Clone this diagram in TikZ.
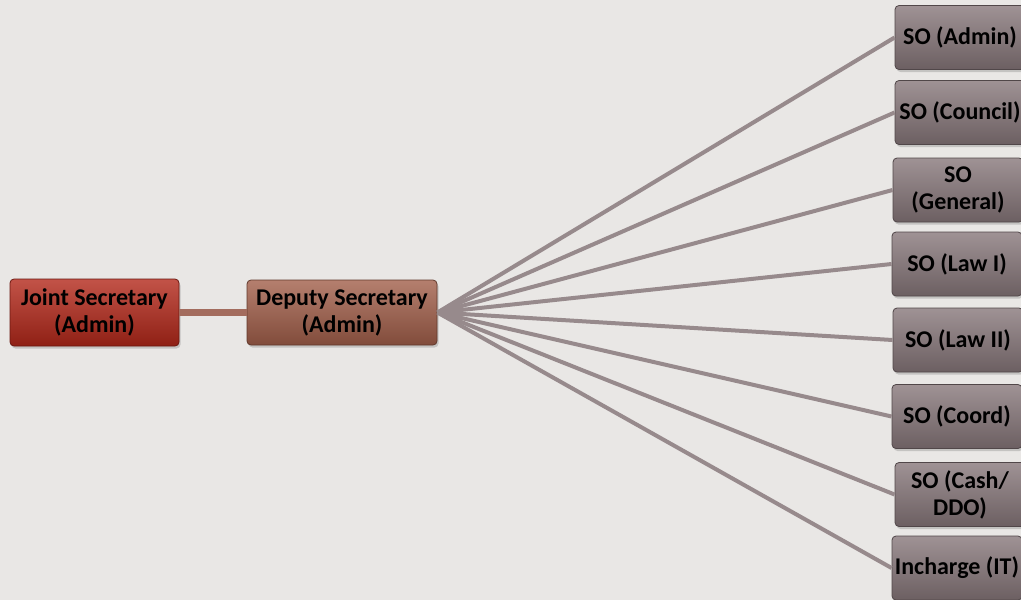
\documentclass[tikz,border=0pt]{standalone}
\usepackage{fontspec}
\setmainfont{Carlito}
\usetikzlibrary{shadows}

\definecolor{bgcol}{HTML}{E9E7E5}
\definecolor{jsred}{HTML}{B3281A}
\definecolor{dsbrown}{HTML}{A25F4A}
\definecolor{sogrey}{HTML}{87777A}
\definecolor{fanline}{HTML}{978A8C}
\definecolor{jsline}{HTML}{A36C5E}

\tikzset{
  post/.style={rounded corners=4pt, align=center, inner sep=0pt,
    font=\fontsize{24}{27}\selectfont\bfseries, text=black,
    drop shadow={shadow xshift=1.5pt, shadow yshift=-2.5pt, opacity=0.35}},
  jsbox/.style={post, draw=jsred!60!black, line width=0.8pt,
    top color=jsred!80!white, middle color=jsred, bottom color=jsred!80!black,
    minimum width=169pt, minimum height=67pt},
  dsbox/.style={post, draw=dsbrown!60!black, line width=0.8pt,
    top color=dsbrown!80!white, middle color=dsbrown, bottom color=dsbrown!80!black,
    minimum width=190pt, minimum height=65pt},
  sobox/.style={post, draw=sogrey!60!black, line width=0.8pt,
    top color=sogrey!80!white, middle color=sogrey, bottom color=sogrey!80!black,
    minimum width=130pt, minimum height=64pt},
  fan/.style={fanline, line width=4pt},
}

\begin{document}
\begin{tikzpicture}[x=1pt,y=-1pt]
\fill[bgcol] (0,0) rectangle (1021,600);
\useasboundingbox (0,0) rectangle (1021,600);

\node[jsbox] (js) at (94.5,312.5) {Joint Secretary\\(Admin)};
\node[dsbox] (ds) at (342,312.5) {Deputy Secretary\\(Admin)};

\node[sobox] (soadmin)   at (960,37.5)  {SO (Admin)};
\node[sobox] (socouncil) at (960,112.5) {SO (Council)};
\node[sobox] (sogeneral) at (958,190)   {SO\\(General)};
\node[sobox] (solawi)    at (957,264)   {SO (Law I)};
\node[sobox] (solawii)   at (958,340)   {SO (Law II)};
\node[sobox] (socoord)   at (957,416.5) {SO (Coord)};
\node[sobox] (socash)    at (960,494.5) {SO (Cash/\\DDO)};
\node[sobox] (soit)      at (957,568)   {Incharge (IT)};

\begin{scope}[on background layer/.try]
\draw[jsline, line width=7pt] (js.east) -- (ds.west);
\foreach \so in {soadmin,socouncil,sogeneral,solawi,solawii,socoord,socash,soit}
  \draw[fan] (ds.east) -- (\so.west);
\end{scope}
\end{tikzpicture}
\end{document}
